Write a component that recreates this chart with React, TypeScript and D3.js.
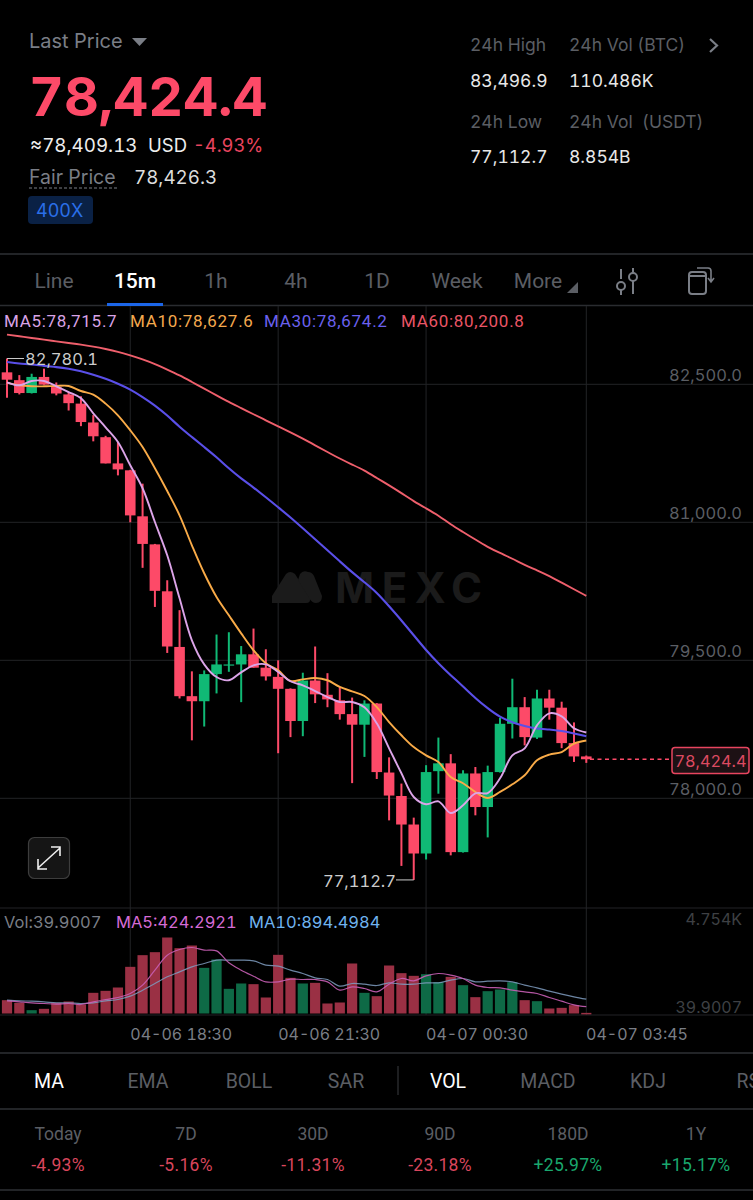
import * as d3 from 'd3';

// candles, oldest first (15m)
const opens = [82630, 82545, 82405, 82580, 82470, 82390, 82290, 82085, 81925, 81640, 81565, 81065, 80760, 80250, 79645, 79110, 79055, 79350, 79445, 79455, 79565, 79420, 79320, 79190, 78840, 79280, 79125, 79065, 78915, 78800, 79030, 78280, 78025, 77715, 77400, 78295, 78380, 77415, 78270, 77905, 78285, 78810, 78990, 78660, 79085, 78985, 78600, 78455];
const closes = [82550, 82405, 82580, 82497, 82400, 82295, 82090, 81935, 81640, 81575, 81075, 80765, 80255, 79650, 79110, 79055, 79350, 79455, 79455, 79565, 79420, 79325, 79190, 78840, 79280, 79130, 79075, 78915, 78800, 79030, 78285, 78030, 77715, 77400, 78285, 78380, 77415, 78270, 77905, 78285, 78810, 78990, 78665, 79085, 78985, 78600, 78455, 78424.4];
const highs = [82780.1, 82600, 82615, 82670, 82520, 82415, 82370, 82165, 81940, 81875, 81570, 81420, 80765, 80370, 80045, 79380, 79390, 79780, 79805, 79655, 79845, 79620, 79500, 79195, 79365, 79650, 79360, 79210, 79095, 79065, 79035, 78445, 78160, 77790, 78360, 78660, 78480, 78305, 78340, 78355, 78875, 79300, 79100, 79180, 79180, 79050, 78825, 78465];
const lows = [82355, 82390, 82400, 82495, 82380, 82215, 82045, 81880, 81640, 81510, 81000, 80505, 80080, 79580, 79085, 78630, 78780, 79140, 79375, 79045, 79420, 79280, 78490, 78665, 78675, 79035, 78990, 78855, 78165, 78450, 78210, 77760, 77265, 77112.7, 77335, 78050, 77380, 77410, 77815, 77575, 78280, 78650, 78575, 78645, 78855, 78545, 78395, 78385];

const ma5 = [82522, 82489, 82536, 82536, 82478, 82416, 82348, 82185, 82033, 81873, 81620, 81370, 81003, 80641, 80174, 79717, 79456, 79318, 79283, 79369, 79445, 79456, 79373, 79272, 79228, 79166, 79101, 79047, 79047, 78989, 78815, 78543, 78272, 78014, 77935, 77967, 77840, 77924, 78054, 78057, 78217, 78467, 78543, 78793, 78924, 78891, 78761, 78715.7];
const ma10 = [82518, 82489, 82478, 82478, 82482, 82482, 82427, 82388, 82290, 82163, 82000, 81818, 81587, 81340, 81076, 80750, 80446, 80188, 79989, 79793, 79609, 79467, 79391, 79275, 79293, 79307, 79283, 79210, 79163, 79112, 78992, 78829, 78685, 78557, 78467, 78394, 78231, 78163, 78069, 78003, 78069, 78152, 78250, 78413, 78475, 78503, 78594, 78627.6];
const ma30 = [82742, 82725, 82717, 82699, 82688, 82671, 82645, 82605, 82562, 82508, 82446, 82362, 82272, 82163, 82036, 81927, 81818, 81710, 81584, 81475, 81380, 81272, 81163, 81054, 80935, 80815, 80696, 80576, 80456, 80348, 80239, 80087, 79935, 79772, 79609, 79467, 79337, 79217, 79087, 78978, 78880, 78826, 78783, 78755, 78750, 78733, 78706, 78674.2];
const ma60 = [83040, 83022, 83003, 82986, 82967, 82949, 82932, 82910, 82884, 82855, 82815, 82772, 82721, 82660, 82598, 82525, 82453, 82380, 82308, 82242, 82174, 82109, 82043, 81978, 81910, 81837, 81764, 81692, 81627, 81565, 81481, 81402, 81318, 81228, 81152, 81076, 80975, 80895, 80812, 80731, 80666, 80605, 80536, 80478, 80416, 80344, 80272, 80200.8];

const volumes = [834, 667, 208, 292, 667, 751, 563, 1293, 1418, 1626, 2919, 3649, 3836, 4754, 4087, 4253, 2856, 3378, 1543, 1877, 1835, 1001, 3670, 2231, 1877, 1918, 626, 688, 3128, 1293, 1084, 3002, 2523, 2356, 2460, 1960, 2294, 1772, 1022, 1397, 1501, 1960, 834, 771, 313, 354, 521, 39.9007];
const volMa5 = [792, 730, 667, 626, 584, 626, 563, 730, 876, 1001, 1251, 1772, 2711, 3649, 4003, 4128, 3962, 3920, 3169, 2711, 2335, 1981, 1981, 2148, 2127, 2127, 1981, 1460, 1668, 1564, 1355, 1835, 2189, 2043, 2356, 2502, 2398, 2189, 1772, 1626, 1605, 1460, 1355, 1251, 1001, 771, 542, 424.2921];
const volMa10 = [834, 792, 771, 730, 667, 667, 626, 667, 792, 876, 1084, 1460, 1877, 2294, 2606, 2919, 3128, 3336, 3336, 3336, 3294, 3023, 2961, 2711, 2502, 2231, 2127, 1710, 1877, 1835, 1751, 1918, 1835, 1835, 1918, 1918, 2085, 2189, 1981, 2022, 2043, 1981, 1772, 1605, 1397, 1209, 1043, 894.4984];

const priceTicks = [82500, 81000, 79500, 78000];
const timeTicks = [{ i: 10, label: '04-06 18:30' }, { i: 22, label: '04-06 21:30' }, { i: 34, label: '04-07 00:30' }, { i: 47, label: '04-07 03:45' }];

const chartTabs = ['Line', '15m', '1h', '4h', '1D', 'Week', 'More'];
const chartTabX = [54, 135, 216, 296, 377, 457, 538];
const indicators = ['MA', 'EMA', 'BOLL', 'SAR', 'VOL', 'MACD', 'KDJ', 'RSI'];
const indicatorX = [49, 148, 249, 346, 448, 548, 648, 751];
const periods = ['Today', '7D', '30D', '90D', '180D', '1Y'];
const periodChanges = ['-4.93%', '-5.16%', '-11.31%', '-23.18%', '+25.97%', '+15.17%'];
const periodX = [58, 186, 313, 440, 568, 696];

const RED = '#fd4a68';
const GREEN = '#10b975';
const GREY = '#7a7e86';
const DIM = '#5b5e64';
const FONT = 'Inter, "Noto Sans", sans-serif';
const TAB_FONT = 'Roboto, "Noto Sans", sans-serif';

const x = d3.scaleLinear().domain([0, 47]).range([7, 586.3]);
const y = d3.scaleLinear().domain([82500, 78000]).range([384.3, 798.3]);
const yVol = d3.scaleLinear().domain([0, 4754]).range([1013.5, 937.5]);

const sharpLine = d3.line<number>().x((_, i) => x(i)).y(d => y(d)).curve(d3.curveCatmullRom);
const smoothLine = d3.line<number>().x((_, i) => x(i)).y(d => y(d)).curve(d3.curveBasis);
const volLine = d3.line<number>().x((_, i) => x(i)).y(d => yVol(d)).curve(d3.curveCatmullRom);

const fmtPrice = d3.format(',.1f');
const fmtVol = d3.format('.4f');

export default function App() {
  const bodyW = 10.6;
  const hGrid = priceTicks.map(t => y(t));
  const vGrid = timeTicks.map(t => x(t.i));
  const lastPrice = closes[closes.length - 1];
  const minI = lows.indexOf(d3.min(lows)!);
  const maxI = highs.indexOf(d3.max(highs)!);

  return (
    <svg width={753} height={1200} style={{ position: 'absolute', left: 0, top: 0, display: 'block', fontVariantNumeric: 'tabular-nums' }} fontFamily={FONT}>
      <rect width={753} height={1200} fill="#000" />

      {/* header */}
      <text x={29} y={48} fontSize={20} fill={GREY}>Last Price</text>
      <path d="M132 38 L147 38 L139.5 46 Z" fill={GREY} />
      <text x={29} y={116} fontSize={54} fontWeight={700} fill={RED}>78,424.4</text>
      <text x={30} y={152} fontSize={18.8} fill="#eee">≈78,409.13</text>
      <text x={148} y={152} fontSize={18.5} fill="#eee">USD</text>
      <text x={193} y={152} fontSize={18.3} fill="#e9455f">-4.93%</text>
      <text x={29} y={184} fontSize={19.5} fill={GREY}>Fair Price</text>
      <line x1={29} x2={118} y1={188} y2={188} stroke={GREY} strokeWidth={1} strokeDasharray="3 2" />
      <text x={134} y={184} fontSize={18.8} fill="#ddd">78,426.3</text>
      <rect x={28} y={196} width={65} height={28} rx={4} fill="#0a2145" />
      <text x={36} y={217} fontSize={18} fill="#2a6fe8">400X</text>

      <g fontSize={17.5}>
        <text x={470} y={51} fill={DIM}>24h High</text>
        <text x={569} y={51} fill={DIM}>24h Vol (BTC)</text>
        <text x={470} y={87} fill="#e8e8e8">83,496.9</text>
        <text x={569} y={87} fill="#e8e8e8">110.486K</text>
        <text x={470} y={128} fill={DIM}>24h Low</text>
        <text x={569} y={128} fill={DIM} xmlSpace="preserve">24h Vol  (USDT)</text>
        <text x={470} y={163} fill="#e8e8e8">77,112.7</text>
        <text x={569} y={163} fill="#e8e8e8">8.854B</text>
      </g>
      <path d="M710 39 L717 45.5 L710 52" fill="none" stroke={GREY} strokeWidth={2.2} />

      {/* period tabs */}
      <line x1={0} x2={753} y1={254} y2={254} stroke="#2e3034" strokeWidth={1.5} />
      <line x1={0} x2={753} y1={305.5} y2={305.5} stroke="#2a2c30" strokeWidth={1.5} />
      {chartTabs.map((t, i) => (
        <text key={t} x={chartTabX[i]} y={288} textAnchor="middle" fontFamily={TAB_FONT} fontSize={21}
          fontWeight={t === '15m' ? 500 : 400} fill={t === '15m' ? '#fff' : DIM}>{t}</text>
      ))}
      <rect x={107} y={303} width={56} height={3} fill="#1c66e8" />
      <path d="M578 282 L578 293 L567 293 Z" fill={DIM} />
      <g stroke={GREY} strokeWidth={2} fill="none">
        <line x1={621} x2={621} y1={269} y2={279} />
        <circle cx={621} cy={286} r={4} />
        <line x1={621} x2={621} y1={290} y2={295} />
        <line x1={633} x2={633} y1={268} y2={273} />
        <circle cx={633} cy={277} r={4} />
        <line x1={633} x2={633} y1={281} y2={294} />
        <rect x={689} y={272} width={17} height={22} rx={3} />
        <line x1={689} x2={706} y1={276} y2={276} />
        <path d="M697 268 L708 268 Q711 268 711 271 L711 281 M708 278 L711 282 L714 278" strokeWidth={1.6} />
      </g>

      {/* grid */}
      {hGrid.map(g => <line key={g} x1={0} x2={753} y1={g} y2={g} stroke="#222326" strokeWidth={1} />)}
      {vGrid.map(g => <line key={g} x1={g} x2={g} y1={306} y2={1015} stroke="#222326" strokeWidth={1} />)}
      <line x1={0} x2={753} y1={908} y2={908} stroke="#222326" />
      <line x1={0} x2={753} y1={1015} y2={1015} stroke="#222326" />

      {/* watermark */}
      <g fill="#1b1b1b">
        <path d="M272 603 L272 596 L286 574 Q290 570 295 574 L310 598 Q311 603 306 603 Z" />
        <path d="M300 574 Q303 570 308 572 Q312 572 314 576 L322 596 Q322 603 316 603 Q312 603 309 598 L298 580 Z" />
        <text x={335} y={603} fontSize={42} fontWeight={700} letterSpacing={7.5}>MEXC</text>
      </g>

      {/* MA legend */}
      <g fontSize={17} fontFamily={TAB_FONT} letterSpacing={0.7}>
        <text x={4} y={327} fill="#d9a3e6">MA5:{fmtPrice(ma5[47])}</text>
        <text x={130} y={327} fill="#f4a94e">MA10:{fmtPrice(ma10[47])}</text>
        <text x={264} y={327} fill="#6a60ee">MA30:{fmtPrice(ma30[47])}</text>
        <text x={401} y={327} fill="#ea5566">MA60:{fmtPrice(ma60[47])}</text>
      </g>

      {/* candles */}
      {opens.map((o, i) => {
        const c = closes[i];
        const col = c >= o ? GREEN : RED;
        const top = y(Math.max(o, c));
        const bot = y(Math.min(o, c));
        return (
          <g key={i}>
            <line x1={x(i)} x2={x(i)} y1={y(highs[i])} y2={y(lows[i])} stroke={col} strokeWidth={2} />
            <rect x={x(i) - bodyW / 2} y={top} width={bodyW} height={Math.max(bot - top, 1.2)} fill={col} />
          </g>
        );
      })}

      {/* moving averages */}
      <path d={smoothLine(ma60)!} fill="none" stroke="#ef5f6c" strokeWidth={1.9} />
      <path d={smoothLine(ma30)!} fill="none" stroke="#5a4fe8" strokeWidth={2.1} />
      <path d={sharpLine(ma10)!} fill="none" stroke="#f9ab48" strokeWidth={1.9} />
      <path d={sharpLine(ma5)!} fill="none" stroke="#dca4e8" strokeWidth={1.9} />

      {/* high / low markers */}
      <line x1={x(maxI)} x2={24} y1={y(highs[maxI])} y2={y(highs[maxI])} stroke="#ccc" strokeWidth={1} />
      <text x={25} y={365} fontSize={16.5} fill="#ccc">{fmtPrice(highs[maxI])}</text>
      <line x1={396} x2={x(minI)} y1={y(lows[minI])} y2={y(lows[minI])} stroke="#ccc" strokeWidth={1} />
      <text x={396} y={887} fontSize={16.5} fill="#ccc" textAnchor="end">{fmtPrice(lows[minI])}</text>

      {/* price axis */}
      {priceTicks.map(t => (
        <text key={t} x={742} y={y(t) - 3} fontSize={16.5} fill={DIM} textAnchor="end">{fmtPrice(t)}</text>
      ))}
      <line x1={590} x2={671} y1={y(lastPrice)} y2={y(lastPrice)} stroke={RED} strokeWidth={1.4} strokeDasharray="4 3.5" />
      <rect x={672} y={747.5} width={77} height={26} rx={3} fill="#1d1114" stroke="#e8455f" strokeWidth={1.5} />
      <text x={710.5} y={766.5} fontSize={16.3} fill="#dc4a61" textAnchor="middle">{fmtPrice(lastPrice)}</text>

      {/* expand button */}
      <rect x={28.5} y={837.5} width={41} height={41} rx={6} fill="#151515" stroke="#3d3d3d" strokeWidth={1.2} />
      <path d="M38 868 L60 848 M51 847 L60 847 L60 856 M38 859 L38 869 L47 869" fill="none" stroke="#eee" strokeWidth={1.6} />

      {/* volume */}
      <text x={4} y={928} fontSize={16.5} fill={GREY}>Vol:{fmtVol(volumes[47])}</text>
      <text x={116} y={928} fontSize={16.5} fill="#d56bd6">MA5:{fmtVol(volMa5[47])}</text>
      <text x={249} y={928} fontSize={16.5} fill="#6fb3ef">MA10:{fmtVol(volMa10[47])}</text>
      {volumes.map((v, i) => {
        const col = closes[i] >= opens[i] ? '#0e6a46' : '#9a3044';
        const top = yVol(v);
        return <rect key={i} x={x(i) - 5.1} y={top} width={10.2} height={Math.max(yVol(0) - top, 1.5)} fill={col} />;
      })}
      <path d={volLine(volMa10)!} fill="none" stroke="#7f9cc0" strokeWidth={1.2} opacity={0.85} />
      <path d={volLine(volMa5)!} fill="none" stroke="#c85fb5" strokeWidth={1.2} opacity={0.9} />
      <text x={742} y={925} fontSize={16} fill="#3e4044" textAnchor="end">4.754K</text>
      <text x={742} y={1013} fontSize={16} fill="#3e4044" textAnchor="end">39.9007</text>

      {/* time axis */}
      {timeTicks.map((t, i) => (
        <text key={t.label} x={i === 3 ? 637 : x(t.i) + 51} y={1040} fontSize={16} fill={GREY} textAnchor="middle">{t.label}</text>
      ))}

      {/* indicator tabs */}
      <line x1={0} x2={753} y1={1053} y2={1053} stroke="#2e3034" strokeWidth={1.5} />
      <line x1={0} x2={753} y1={1109} y2={1109} stroke="#2e3034" strokeWidth={1.5} />
      <line x1={0} x2={753} y1={1190} y2={1190} stroke="#2e3034" strokeWidth={1.5} />
      {indicators.map((t, i) => (
        <text key={t} x={indicatorX[i]} y={1088} fontSize={19.5} fontFamily={TAB_FONT} textAnchor="middle"
          fill={t === 'MA' || t === 'VOL' ? '#fff' : DIM}>{t}</text>
      ))}
      <line x1={398} x2={398} y1={1066} y2={1095} stroke="#3a3c40" />

      {/* change over periods */}
      {periods.map((p, i) => (
        <g key={p} textAnchor="middle" fontFamily={TAB_FONT}>
          <text x={periodX[i]} y={1140} fontSize={17.5} fill={DIM}>{p}</text>
          <text x={periodX[i]} y={1171} fontSize={17.5} letterSpacing={0.3} fill={periodChanges[i][0] === '+' ? '#1aa86e' : '#d9465c'}>{periodChanges[i]}</text>
        </g>
      ))}
    </svg>
  );
}
